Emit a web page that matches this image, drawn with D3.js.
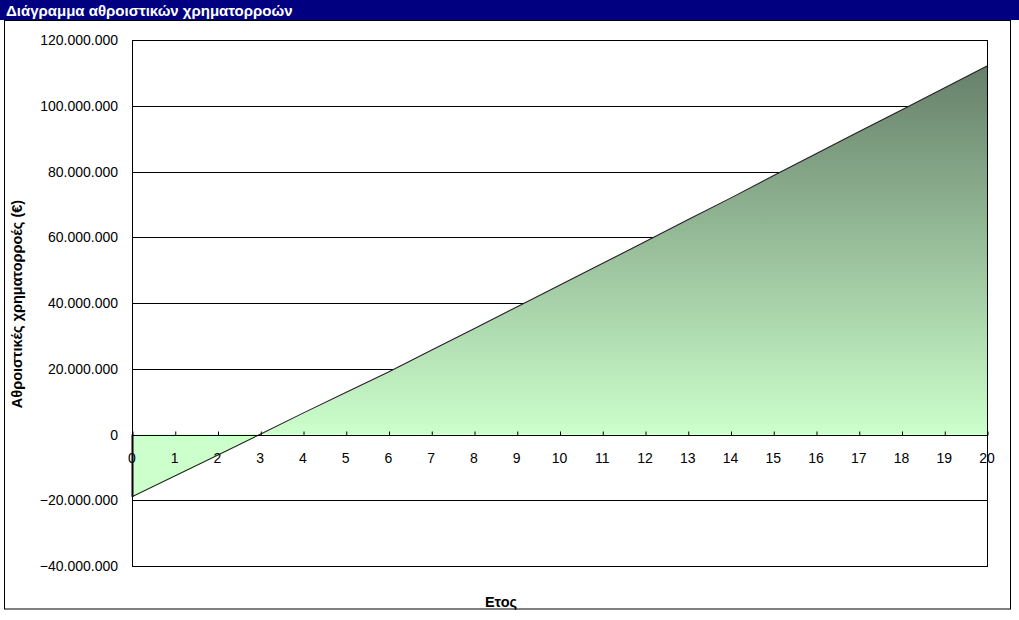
<!DOCTYPE html>
<html>
<head>
<meta charset="utf-8">
<script src="https://cdn.jsdelivr.net/npm/d3@7"></script>
<style>
  html, body { margin: 0; padding: 0; background: #fff; }
  svg { display: block; font-family: "Liberation Sans", Arial, sans-serif; }
</style>
</head>
<body>
<svg id="chart" width="1019" height="620"></svg>
<script>
const chartTitle = "Διάγραμμα αθροιστικών χρηματορροών";
const yAxisTitle = "Αθροιστικές χρηματορροές (€)";
const xAxisTitle = "Ετος";
const years = [0, 1, 2, 3, 4, 5, 6, 7, 8, 9, 10, 11, 12, 13, 14, 15, 16, 17, 18, 19, 20];
const cumulativeCashFlow = [
  -18900000, -12600000, -6300000, 100000, 6500000, 12800000, 19000000, 25600000,
  32200000, 38800000, 45400000, 52000000, 58600000, 65300000, 71900000, 78700000,
  85400000, 92100000, 98700000, 105400000, 112100000
];
const yTicks = [-40000000, -20000000, 0, 20000000, 40000000, 60000000, 80000000, 100000000, 120000000];

(function () {
const svg = d3.select("#chart");
const W = 1019, H = 620;
const pL = 132, pR = 987, pT = 40, pB = 566;

const x = d3.scaleLinear().domain([0, 20]).range([pL, pR]);
const y = d3.scaleLinear().domain([-40000000, 120000000]).range([pB, pT]);

const loc = d3.formatLocale({decimal: ",", thousands: ".", grouping: [3], currency: ["", "€"]});
const fmt = loc.format(",");

// Title bar
svg.append("rect").attr("x", 0).attr("y", 0).attr("width", W).attr("height", 20).attr("fill", "#000080");
svg.append("text").attr("x", 6).attr("y", 15.5).attr("fill", "#fff")
  .attr("font-size", 15).attr("font-weight", "bold").text(chartTitle);

// Outer border
svg.append("rect").attr("x", 4.5).attr("y", 20.5).attr("width", 1006).attr("height", 588.5)
  .attr("fill", "none").attr("stroke", "#000").attr("stroke-width", 1);

// Gradient
const defs = svg.append("defs");
const grad = defs.append("linearGradient").attr("id", "areaGrad")
  .attr("gradientUnits", "userSpaceOnUse")
  .attr("x1", 0).attr("x2", 0)
  .attr("y1", y(d3.max(cumulativeCashFlow))).attr("y2", y(0));
grad.append("stop").attr("offset", "0%").attr("stop-color", "#66806a");
grad.append("stop").attr("offset", "100%").attr("stop-color", "#ccffcc");

// Gridlines
svg.append("g").selectAll("line").data(yTicks).join("line")
  .attr("x1", pL).attr("x2", pR)
  .attr("y1", d => Math.round(y(d)) + 0.5).attr("y2", d => Math.round(y(d)) + 0.5)
  .attr("stroke", "#000").attr("stroke-width", 1);

// Area
const data = years.map((yr, i) => ({yr, v: cumulativeCashFlow[i]}));
const area = d3.area().x(d => x(d.yr)).y0(y(0)).y1(d => y(d.v));
svg.append("path").datum(data).attr("d", area).attr("fill", "url(#areaGrad)");

// Line
const line = d3.line().x(d => x(d.yr)).y(d => y(d.v));
svg.append("path").datum(data).attr("d", line).attr("fill", "none")
  .attr("stroke", "#222").attr("stroke-width", 1.1);
svg.append("line").attr("x1", x(0) + 0.5).attr("x2", x(0) + 0.5)
  .attr("y1", y(0)).attr("y2", y(cumulativeCashFlow[0]))
  .attr("stroke", "#000").attr("stroke-width", 2);

// Plot frame
svg.append("rect").attr("x", pL + 0.5).attr("y", pT + 0.5)
  .attr("width", pR - pL).attr("height", pB - pT)
  .attr("fill", "none").attr("stroke", "#000").attr("stroke-width", 1);

// Y axis labels
svg.append("g").selectAll("text").data(yTicks).join("text")
  .attr("x", 118).attr("y", d => y(d) + 5)
  .attr("text-anchor", "end").attr("font-size", 14).attr("fill", "#000")
  .text(d => fmt(d));

// X axis at zero
const xAxis = d3.axisTop(x).tickValues(years).tickSize(4).tickFormat("");
const xg = svg.append("g").attr("transform", `translate(0.5,${Math.round(y(0)) + 0.5})`).call(xAxis);
xg.select(".domain").attr("stroke", "#000").attr("d", `M${pL},0H${pR}`);
xg.selectAll(".tick line").attr("stroke", "#000");
svg.append("g").selectAll("text").data(years).join("text")
  .attr("x", d => x(d)).attr("y", y(0) + 28)
  .attr("text-anchor", "middle").attr("font-size", 14).attr("fill", "#000")
  .text(d => d);

// Axis titles
svg.append("text").attr("transform", `translate(22,${304}) rotate(-90)`)
  .attr("text-anchor", "middle").attr("font-size", 14.5).attr("font-weight", "bold")
  .text(yAxisTitle);
svg.append("text").attr("x", 501).attr("y", 607).attr("text-anchor", "middle")
  .attr("font-size", 14.5).attr("font-weight", "bold").text(xAxisTitle);
})();
</script>
</body>
</html>
